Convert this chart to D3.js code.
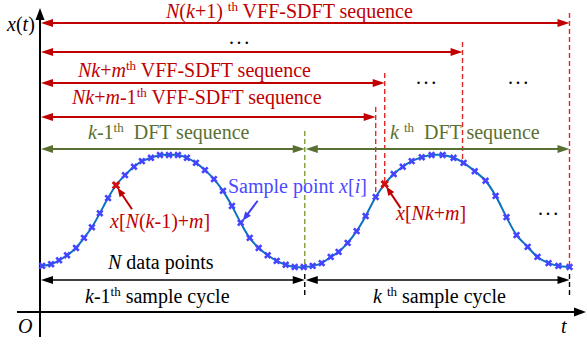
<!DOCTYPE html>
<html><head><meta charset="utf-8">
<script src="https://cdn.jsdelivr.net/npm/d3@7"></script>
<style>
body{margin:0;background:#fff}
svg text{font-family:"Times New Roman","Liberation Serif",Tinos,"DejaVu Serif",serif;font-size:20px;white-space:pre}
</style>
</head><body>
<svg id="c" width="587" height="345" font-family="Liberation Serif, Times New Roman, serif"></svg>
<script>
// ---------- data (t in cycles, v normalised amplitude) ----------
const sampleT = [0.008,0.042,0.072,0.102,0.136,0.166,0.196,0.226,0.257,0.287,0.321,0.355,0.385,0.419,0.453,0.487,0.521,
  0.555,0.589,0.623,0.657,0.691,0.725,0.758,0.792,0.826,0.860,0.894,0.928,0.962,0.996,
  1.030,1.064,1.098,1.128,1.162,1.196,1.230,1.268,1.302,1.336,1.370,1.404,1.442,1.479,1.521,
  1.562,1.600,1.642,1.683,1.721,1.762,1.800,1.842,1.879,1.921,1.958,2.000];
const sampleV = [-0.98,-0.95,-0.88,-0.79,-0.66,-0.48,-0.29,-0.04,0.23,0.46,0.64,0.79,0.89,0.95,1.00,1.00,1.00,
  0.95,0.86,0.73,0.57,0.36,0.09,-0.21,-0.48,-0.66,-0.79,-0.89,-0.96,-1.00,-1.00,
  -0.98,-0.93,-0.82,-0.73,-0.57,-0.36,-0.09,0.25,0.48,0.66,0.79,0.89,0.96,1.00,1.00,
  0.95,0.86,0.71,0.54,0.27,-0.11,-0.43,-0.64,-0.82,-0.93,-0.98,-1.00];
const highlightIdx = [9, 39];
const pointedIdx = 23;

const seqEnds = [2.0, 1.596, 1.302, 1.268];
const seqLabels = [
  [["N","i"],["(","n"],["k","i"],["+1) ","n"],["th","s"],[" VFF-SDFT sequence","n"]],
  null,
  [["Nk","i"],["+","n"],["m","i"],["th","s"],[" VFF-SDFT sequence","n"]],
  [["Nk","i"],["+","n"],["m","i"],["-1","n"],["th","s"],[" VFF-SDFT sequence","n"]]
];
const cycleBounds = [0, 1, 2];
const dftLabels = [
  [["k","i"],["-1","n"],["th","s"],["  DFT sequence","n"]],
  [["k","i"],[" ","n"],["th","s"],["  DFT sequence","n"]]
];
const cycleLabels = [
  [["k","i"],["-1","n"],["th","s"],[" sample cycle","n"]],
  [["k","i"],[" ","n"],["th","s"],[" sample cycle","n"]]
];
const dataPointsLabel = [["N","i"],[" data points","n"]];
const sampleLabel = [["Sample point ","n"],["x","i"],["[","n"],["i","i"],["]","n"]];
const hlLabels = [
  [["x","i"],["[","n"],["N","i"],["(","n"],["k","i"],["-1)+","n"],["m","i"],["]","n"]],
  [["x","i"],["[","n"],["Nk","i"],["+","n"],["m","i"],["]","n"]]
];

// ---------- layout ----------
const FONT = '"Liberation Serif","Times New Roman",Tinos,serif';
const RED="#c00000", RED_D="#e02a2a", GREEN="#5a7032", GREEN_D="#7f9c3c", BLUE="#4a4aff", CURVE="#0a72c2";
const svg = d3.select("#c");
const x = d3.scaleLinear().domain([0,2]).range([40,569.5]);
const y = d3.scaleLinear().domain([-1,1]).range([267,155]);
const vAt = d3.scaleLinear().domain(sampleT).range(sampleV);

function head(g, x2, y2, ang, len, hw, color){
  const c=Math.cos(ang), s=Math.sin(ang);
  const bx=x2-len*c, by=y2-len*s;
  g.append("path").attr("d",`M${x2},${y2}L${bx - hw*s},${by + hw*c}L${bx + hw*s},${by - hw*c}Z`).attr("fill",color);
}
function arrow(g, x1,y1,x2,y2,o){
  const ang=Math.atan2(y2-y1,x2-x1), len=o.len||11, hw=o.hw||4;
  const c=Math.cos(ang), s=Math.sin(ang);
  let sx=x1, sy=y1, ex=x2, ey=y2;
  if(o.start){ sx+=c*(len-2); sy+=s*(len-2); }
  if(o.end){ ex-=c*(len-2); ey-=s*(len-2); }
  g.append("line").attr("x1",sx).attr("y1",sy).attr("x2",ex).attr("y2",ey)
    .attr("stroke",o.color).attr("stroke-width",o.w||2);
  if(o.end) head(g,x2,y2,ang,len,hw,o.color);
  if(o.start) head(g,x1,y1,ang+Math.PI,len,hw,o.color);
}
function rich(g, x0, y0, segs, color){
  const t=g.append("text").attr("x",x0).attr("y",y0).attr("fill",color)
    .attr("font-family",FONT).attr("font-size",20).style("white-space","pre");
  let raised=false;
  segs.forEach(([s,st])=>{
    const ts=t.append("tspan").text(s);
    if(st==="i") ts.attr("font-style","italic");
    if(st==="s"){ ts.attr("font-size",13).attr("dy",-7); raised=true; }
    else if(raised){ ts.attr("dy",7); raised=false; }
  });
  return t;
}
function dots(g, x0, yy){
  g.append("text").attr("x",x0).attr("y",yy+1.5).attr("font-family",FONT).attr("font-size",20)
   .attr("letter-spacing","2.6px").attr("fill","#000").text("...");
}
function dashed(g, xx, y1, y2, color){
  g.append("line").attr("x1",xx).attr("x2",xx).attr("y1",y1).attr("y2",y2)
   .attr("stroke",color).attr("stroke-width",1.4).attr("stroke-dasharray","5,3");
}

const g = svg.append("g");

// axes
arrow(g, x(0), 337, x(0), 8, {color:"#000", end:true, w:2, len:12, hw:4.5});
arrow(g, 17, 312, 586, 312, {color:"#000", end:true, w:2, len:12, hw:4.5});
rich(g, 7, 31, [["x","i"],["(","n"],["t","i"],[")","n"]], "#000");
rich(g, 18, 333, [["O","i"]], "#000");
rich(g, 561, 333, [["t","i"]], "#000");

// VFF-SDFT sequence rows
const rowY=[23,52,83,117], rowLabelX=[166,null,78,72], rowLabelY=[18,null,77,104];
seqEnds.forEach((e,i)=>{
  dashed(g, x(e), rowY[i]-10, y(vAt(e)), RED_D);
});
seqEnds.forEach((e,i)=>{
  arrow(g, x(0)+1, rowY[i], x(e), rowY[i], {color:RED, start:true, end:true, w:2.2, len:12, hw:4});
  if(seqLabels[i]) rich(g, rowLabelX[i], rowLabelY[i], seqLabels[i], RED);
});
dots(g, 229, 42);
dots(g, 416, 82);
dots(g, 508, 82);

// DFT sequences
dashed(g, x(1), 131, y(vAt(1)), GREEN_D);
const dftLabelX=[88,390];
d3.pairs(cycleBounds).forEach(([a,b],i)=>{
  arrow(g, x(a)+1, 149, x(b), 149, {color:GREEN, start:true, end:true, w:2.2, len:12, hw:4});
  rich(g, dftLabelX[i], 139, dftLabels[i], GREEN);
});

// curve and samples
const pts = sampleT.map((t,i)=>[x(t), y(sampleV[i])]);
g.append("path").attr("d", d3.line().curve(d3.curveCatmullRom.alpha(0.5))(pts))
  .attr("fill","none").attr("stroke",CURVE).attr("stroke-width",2);
const sym = d3.symbol().type(d3.symbolCross);
g.selectAll("path.m").data(pts).enter().append("path").attr("class","m")
  .attr("d", (d,i)=> sym.size(highlightIdx.includes(i)?46:34)())
  .attr("transform", d=>`translate(${d[0]},${d[1]}) rotate(45)`)
  .attr("fill",(d,i)=> highlightIdx.includes(i)?"#d01010":"#4545ff");

// annotations
const hlLabelPos=[[110,228],[396,220]];
highlightIdx.forEach((k,i)=>{
  const [px,py]=pts[k];
  arrow(g, px+16, py+24, px+1.5, py+2.5, {color:RED, end:true, w:2, len:9, hw:3.5});
  rich(g, hlLabelPos[i][0], hlLabelPos[i][1], hlLabels[i], RED);
});
{
  const [px,py]=pts[pointedIdx];
  arrow(g, px+17, py-22, px+2, py-2, {color:"#4040f0", end:true, w:2, len:9, hw:3.5});
  rich(g, 228, 193, sampleLabel, BLUE);
}
dots(g, 538, 213);

// sample cycles
rich(g, 108, 269, dataPointsLabel, "#000");
const cycLabelX=[85,373];
cycleBounds.slice(1).forEach(b=> dashed(g, x(b), 274, 297, "#000"));
d3.pairs(cycleBounds).forEach(([a,b],i)=>{
  arrow(g, x(a)+1, 280, x(b), 280, {color:"#000", start:true, end:true, w:1.6, len:12, hw:4});
  rich(g, cycLabelX[i], 303, cycleLabels[i], "#000");
});
</script>
</body></html>
